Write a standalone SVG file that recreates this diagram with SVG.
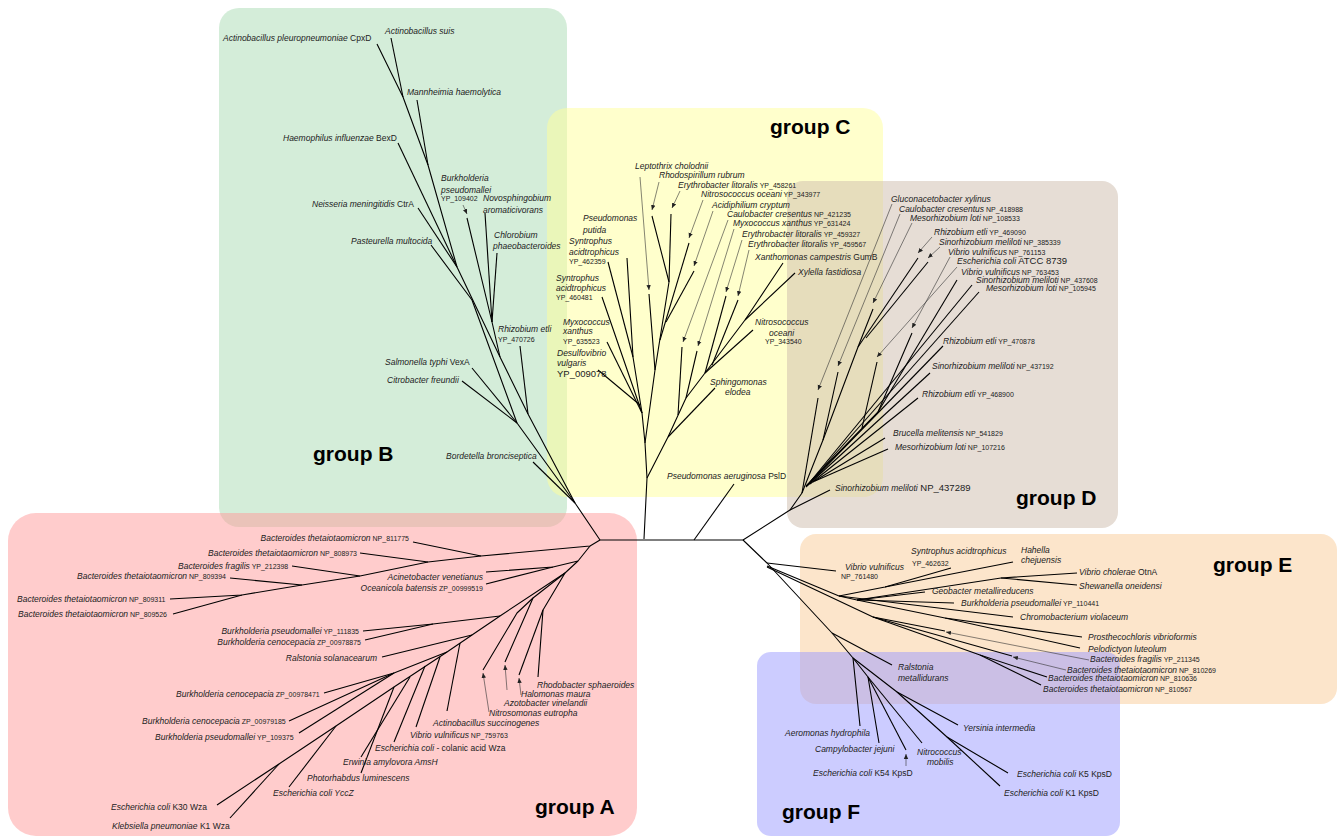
<svg xmlns="http://www.w3.org/2000/svg" width="1339" height="837" viewBox="0 0 1339 837">
<defs>
<marker id="ah" markerWidth="6" markerHeight="6" refX="5" refY="3" orient="auto" markerUnits="userSpaceOnUse"><path d="M0,0.8 L5,3 L0,5.2 z" fill="#222"/></marker>
<style>
.t{font-family:"Liberation Sans",Arial,sans-serif;font-size:8.5px;font-style:italic;fill:#222}
.n{font-style:normal}
.a{font-style:normal;font-size:7px}
.b{font-style:normal;font-size:9.5px}
.g{font-family:"Liberation Sans",Arial,sans-serif;font-size:21px;font-weight:bold;fill:#000}
.br{stroke:#000;stroke-width:1.1;fill:none;stroke-linejoin:round}
.ld{stroke:#333;stroke-width:0.6;fill:none;marker-end:url(#ah)}
</style>
</defs>
<rect width="1339" height="837" fill="#fff"/>
<g id="backgrounds">
<rect id="bgB" x="219" y="8" width="348" height="519" rx="20" fill="#aadbb4" fill-opacity="0.5"/>
<rect id="bgC" x="547" y="108" width="336" height="389" rx="20" fill="#ffff99" fill-opacity="0.5"/>
<rect id="bgD" x="787" y="181" width="331" height="347" rx="16" fill="#cdbcab" fill-opacity="0.5"/>
<rect id="bgA" x="8" y="513" width="629" height="323" rx="28" fill="#ff9999" fill-opacity="0.5"/>
<rect id="bgE" x="800" y="534" width="537" height="170" rx="16" fill="#f9cc97" fill-opacity="0.5"/>
<rect id="bgF" x="757" y="652" width="363" height="184" rx="14" fill="#9999ff" fill-opacity="0.5"/>
</g>
<g id="connectors">
<path class="br" d="M600,540 L743,540"/>
<path class="br" d="M694,540 L734,484"/>
<path class="br" d="M600,540 L575,503 L528,414 L500,357 L457,267 L428,165 L403,97 L377,44"/>
<path class="br" d="M403,97 L391,38"/>
<path class="br" d="M428,165 L417,100"/>
<path class="br" d="M457,267 L398,143"/>
<path class="br" d="M457,267 L418,208"/>
<path class="br" d="M500,357 L492,322 L467,218"/>
<path class="br" d="M492,322 L485,213"/>
<path class="br" d="M492,322 L497,253"/>
<path class="ld" d="M463,205 L467,214"/>
<path class="br" d="M528,414 L520,346"/>
<path class="br" d="M575,503 L517,423 L472,300 L431,245"/>
<path class="br" d="M517,423 L472,368"/>
<path class="br" d="M517,423 L462,381"/>
<path class="br" d="M575,503 L533,462"/>
<path class="br" d="M644,539 L647,478 L645,443 L642,413 L602,297"/>
<path class="br" d="M642,413 L607,342"/>
<path class="br" d="M640,405 L598,370"/>
<path class="br" d="M642,413 L633,357 L627,258"/>
<path class="br" d="M633,357 L608,262"/>
<path class="br" d="M645,443 L655,370 L649,294"/>
<path class="br" d="M655,370 L669,282 L652,216"/>
<path class="br" d="M669,282 L671,214"/>
<path class="br" d="M660,340 L689,243"/>
<path class="br" d="M666,322 L694,271"/>
<path class="ld" d="M640,177 L649,290"/>
<path class="ld" d="M659,182 L652,210"/>
<path class="ld" d="M680,191 L672,208"/>
<path class="ld" d="M703,200 L689,238"/>
<path class="ld" d="M713,211 L694,266"/>
<path class="br" d="M647,478 L668,437 L686,398 L705,373 L745,320 L783,263"/>
<path class="br" d="M745,320 L795,273"/>
<path class="br" d="M668,437 L715,388"/>
<path class="br" d="M705,373 L753,330"/>
<path class="br" d="M705,373 L726,296"/>
<path class="br" d="M712,365 L738,300"/>
<path class="br" d="M686,398 L697,351"/>
<path class="br" d="M678,415 L682,347"/>
<path class="ld" d="M728,220 L683,342"/>
<path class="ld" d="M734,229 L698,346"/>
<path class="ld" d="M742,240 L726,292"/>
<path class="ld" d="M749,250 L738,296"/>
<path class="br" d="M743,540 L790,510 L802,493"/>
<path class="br" d="M790,510 L830,490"/>
<path class="br" d="M802,493 L818,398"/>
<path class="ld" d="M892,204 L818,390"/>
<path class="br" d="M802,493 L823,440 L838,372"/>
<path class="ld" d="M900,214 L838,366"/>
<path class="br" d="M823,440 L858,347 L873,309"/>
<path class="ld" d="M912,223 L873,303"/>
<path class="br" d="M858,347 L918,258"/>
<path class="br" d="M866,338 L928,262"/>
<path class="ld" d="M932,237 L918,253"/>
<path class="ld" d="M940,247 L928,258"/>
<path class="br" d="M806,486 L878,412 L912,333"/>
<path class="ld" d="M950,257 L912,328"/>
<path class="br" d="M862,428 L877,362"/>
<path class="ld" d="M957,267 L877,357"/>
<path class="br" d="M878,412 L957,280"/>
<path class="br" d="M810,482 L972,285"/>
<path class="br" d="M812,480 L979,292"/>
<path class="br" d="M806,487 L943,346"/>
<path class="br" d="M808,485 L930,373"/>
<path class="br" d="M810,484 L918,398"/>
<path class="br" d="M813,482 L885,438"/>
<path class="br" d="M815,481 L888,449"/>
<path class="br" d="M743,540 L767,563 L832,633"/>
<path class="br" d="M767,563 L836,571"/>
<path class="br" d="M767,566 L839,596 L885,587 L951,568"/>
<path class="br" d="M885,587 L1013,562"/>
<path class="br" d="M839,596 L857,600 L925,592"/>
<path class="br" d="M857,600 L954,603"/>
<path class="br" d="M857,600 L1001,578 L1077,573"/>
<path class="br" d="M1001,578 L1077,585"/>
<path class="br" d="M839,596 L1013,617"/>
<path class="br" d="M857,600 L945,618 L1082,637"/>
<path class="br" d="M945,618 L1080,648"/>
<path class="br" d="M767,567 L873,617 L945,631"/>
<path class="br" d="M873,617 L1012,656"/>
<path class="br" d="M873,617 L980,655 L1047,677"/>
<path class="br" d="M980,655 L1041,685"/>
<path class="ld" d="M1089,660 L946,632"/>
<path class="ld" d="M1066,670 L1013,657"/>
<path class="br" d="M832,633 L892,665"/>
<path class="br" d="M832,633 L853,658 L860,726"/>
<path class="br" d="M853,658 L868,677 L879,743"/>
<path class="br" d="M868,677 L906,750"/>
<path class="br" d="M868,677 L922,743"/>
<path class="br" d="M853,658 L897,692 L958,725"/>
<path class="br" d="M897,692 L947,737 L1008,773"/>
<path class="br" d="M947,737 L1000,786"/>
<path class="ld" d="M906,766 L906,754"/>
<path class="br" d="M600,540 L590,546 L481,556 L428,562 L360,576 L302,585 L242,595 L170,599"/>
<path class="br" d="M242,595 L173,614"/>
<path class="br" d="M302,585 L230,578"/>
<path class="br" d="M360,576 L292,566"/>
<path class="br" d="M428,562 L360,553"/>
<path class="br" d="M481,556 L413,542"/>
<path class="br" d="M590,546 L578,561 L553,567 L486,572"/>
<path class="br" d="M553,567 L486,584"/>
<path class="br" d="M578,561 L565,573 L543,610 L538,677"/>
<path class="br" d="M543,610 L519,675"/>
<path class="br" d="M565,573 L533,598 L505,662"/>
<path class="br" d="M533,598 L517,613 L483,670"/>
<path class="br" d="M565,573 L500,616 L472,635 L447,652 L394,687 L336,726 L279,764 L217,805"/>
<path class="br" d="M279,764 L230,818"/>
<path class="br" d="M336,726 L289,787"/>
<path class="br" d="M500,616 L433,624 L363,631"/>
<path class="br" d="M433,624 L365,640"/>
<path class="br" d="M472,635 L382,657"/>
<path class="br" d="M447,652 L394,673 L324,693"/>
<path class="br" d="M394,673 L289,721"/>
<path class="br" d="M394,673 L299,733"/>
<path class="br" d="M394,687 L361,773"/>
<path class="br" d="M410,677 L361,757"/>
<path class="br" d="M425,666 L394,742"/>
<path class="br" d="M440,657 L416,727"/>
<path class="br" d="M460,643 L447,711"/>
<path class="ld" d="M489,712 L483,673"/>
<path class="ld" d="M507,690 L505,665"/>
<path class="ld" d="M521,695 L519,678"/>
</g>
<g id="groupB">
<text class="t" x="223" y="41">Actinobacillus pleuropneumoniae<tspan class="n"> CpxD</tspan></text>
<text class="t" x="385" y="34">Actinobacillus suis</text>
<text class="t" x="407" y="95">Mannheimia haemolytica</text>
<text class="t" x="283" y="141">Haemophilus influenzae<tspan class="n"> BexD</tspan></text>
<text class="t" x="441" y="181">Burkholderia</text>
<text class="t" x="441" y="193">pseudomallei</text>
<text class="t a" x="441" y="201">YP_109402</text>
<text class="t" x="483" y="201">Novosphingobium</text>
<text class="t" x="483" y="213">aromaticivorans</text>
<text class="t" x="312" y="207">Neisseria meningitidis<tspan class="n"> CtrA</tspan></text>
<text class="t" x="494" y="238">Chlorobium</text>
<text class="t" x="493" y="249">phaeobacteroides</text>
<text class="t" x="351" y="244">Pasteurella multocida</text>
<text class="t" x="498" y="332">Rhizobium etli</text>
<text class="t a" x="498" y="342">YP_470726</text>
<text class="t" x="385" y="365">Salmonella typhi<tspan class="n"> VexA</tspan></text>
<text class="t" x="387" y="383">Citrobacter freundii</text>
<text class="t" x="446" y="459">Bordetella bronciseptica</text>
<text class="g" x="313" y="461">group B</text>
</g>
<g id="groupC">
<text class="t" x="635" y="169">Leptothrix cholodnii</text>
<text class="t" x="659" y="178">Rhodospirillum rubrum</text>
<text class="t" x="678" y="188">Erythrobacter litoralis<tspan class="a"> YP_458261</tspan></text>
<text class="t" x="701" y="197">Nitrosococcus oceani<tspan class="a"> YP_343977</tspan></text>
<text class="t" x="712" y="208">Acidiphilium cryptum</text>
<text class="t" x="727" y="217">Caulobacter cresentus<tspan class="a"> NP_421235</tspan></text>
<text class="t" x="733" y="226">Myxococcus xanthus<tspan class="a"> YP_631424</tspan></text>
<text class="t" x="742" y="237">Erythrobacter litoralis<tspan class="a"> YP_459327</tspan></text>
<text class="t" x="748" y="247">Erythrobacter litoralis<tspan class="a"> YP_459567</tspan></text>
<text class="t" x="755" y="260">Xanthomonas campestris<tspan class="n"> GumB</tspan></text>
<text class="t" x="798" y="275">Xylella fastidiosa</text>
<text class="t" x="583" y="221">Pseudomonas</text>
<text class="t" x="583" y="233">putida</text>
<text class="t" x="569" y="244">Syntrophus</text>
<text class="t" x="569" y="255">acidtrophicus</text>
<text class="t a" x="569" y="264">YP_462359</text>
<text class="t" x="556" y="281">Syntrophus</text>
<text class="t" x="556" y="291">acidtrophicus</text>
<text class="t a" x="556" y="300">YP_460481</text>
<text class="t" x="563" y="325">Myxococcus</text>
<text class="t" x="563" y="334">xanthus</text>
<text class="t a" x="563" y="344">YP_635523</text>
<text class="t" x="557" y="356">Desulfovibrio</text>
<text class="t" x="557" y="366">vulgaris</text>
<text class="t b" x="557" y="377">YP_009078</text>
<text class="t" x="755" y="325">Nitrosococcus</text>
<text class="t" x="769" y="336">oceani</text>
<text class="t a" x="765" y="344">YP_343540</text>
<text class="t" x="710" y="385">Sphingomonas</text>
<text class="t" x="725" y="395">elodea</text>
<text class="t" x="667" y="479">Pseudomonas aeruginosa<tspan class="n"> PslD</tspan></text>
<text class="g" x="770" y="134">group C</text>
</g>
<g id="groupD">
<text class="t" x="891" y="202">Gluconacetobacter xylinus</text>
<text class="t" x="899" y="212">Caulobacter cresentus<tspan class="a"> NP_418988</tspan></text>
<text class="t" x="910" y="221">Mesorhizobium loti<tspan class="a"> NP_108533</tspan></text>
<text class="t" x="934" y="235">Rhizobium etli<tspan class="a"> YP_469090</tspan></text>
<text class="t" x="939" y="245">Sinorhizobium meliloti<tspan class="a"> NP_385339</tspan></text>
<text class="t" x="948" y="255">Vibrio vulnificus<tspan class="a"> NP_761153</tspan></text>
<text class="t" x="957" y="264">Escherichia coli<tspan class="b"> ATCC 8739</tspan></text>
<text class="t" x="961" y="275">Vibrio vulnificus<tspan class="a"> NP_763453</tspan></text>
<text class="t" x="976" y="283">Sinorhizobium meliloti<tspan class="a"> NP_437608</tspan></text>
<text class="t" x="986" y="291">Mesorhizobium loti<tspan class="a"> NP_105945</tspan></text>
<text class="t" x="943" y="344">Rhizobium etli<tspan class="a"> YP_470878</tspan></text>
<text class="t" x="932" y="369">Sinorhizobium meliloti<tspan class="a"> NP_437192</tspan></text>
<text class="t" x="922" y="397">Rhizobium etli<tspan class="a"> YP_468900</tspan></text>
<text class="t" x="893" y="436">Brucella melitensis<tspan class="a"> NP_541829</tspan></text>
<text class="t" x="895" y="450">Mesorhizobium loti<tspan class="a"> NP_107216</tspan></text>
<text class="t" x="835" y="491">Sinorhizobium meliloti<tspan class="b"> NP_437289</tspan></text>
<text class="g" x="1016" y="505">group D</text>
</g>
<g id="groupE">
<text class="t" x="845" y="570">Vibrio vulnificus</text>
<text class="t a" x="841" y="579">NP_761480</text>
<text class="t" x="911" y="554">Syntrophus acidtrophicus</text>
<text class="t a" x="912" y="566">YP_462632</text>
<text class="t" x="1021" y="553">Hahella</text>
<text class="t" x="1021" y="563">chejuensis</text>
<text class="t" x="1079" y="575">Vibrio cholerae<tspan class="n"> OtnA</tspan></text>
<text class="t" x="1079" y="589">Shewanella oneidensi</text>
<text class="t" x="932" y="594">Geobacter metallireducens</text>
<text class="t" x="961" y="606">Burkholderia pseudomallei<tspan class="a"> YP_110441</tspan></text>
<text class="t" x="1020" y="620">Chromobacterium violaceum</text>
<text class="t" x="1088" y="640">Prosthecochloris vibrioformis</text>
<text class="t" x="1088" y="652">Pelodictyon luteolum</text>
<text class="t" x="1090" y="662">Bacteroides fragilis<tspan class="a"> YP_211345</tspan></text>
<text class="t" x="1067" y="673">Bacteroides thetaiotaomicron<tspan class="a"> NP_810269</tspan></text>
<text class="t" x="1048" y="681">Bacteroides thetaiotaomicron<tspan class="a"> NP_810636</tspan></text>
<text class="t" x="1043" y="692">Bacteroides thetaiotaomicron<tspan class="a"> NP_810567</tspan></text>
<text class="g" x="1213" y="572">group E</text>
</g>
<g id="groupF">
<text class="t" x="898" y="670">Ralstonia</text>
<text class="t" x="898" y="681">metallidurans</text>
<text class="t" x="785" y="736">Aeromonas hydrophila</text>
<text class="t" x="815" y="752">Campylobacter jejuni</text>
<text class="t" x="813" y="776">Escherichia coli<tspan class="n"> K54 KpsD</tspan></text>
<text class="t" x="917" y="755">Nitrococcus</text>
<text class="t" x="927" y="765">mobilis</text>
<text class="t" x="963" y="731">Yersinia intermedia</text>
<text class="t" x="1017" y="777">Escherichia coli<tspan class="n"> K5 KpsD</tspan></text>
<text class="t" x="1004" y="796">Escherichia coli<tspan class="n"> K1 KpsD</tspan></text>
<text class="g" x="782" y="819">group F</text>
</g>
<g id="groupA">
<text class="t" x="409" y="541" text-anchor="end">Bacteroides thetaiotaomicron<tspan class="a"> NP_811775</tspan></text>
<text class="t" x="357" y="556" text-anchor="end">Bacteroides thetaiotaomicron<tspan class="a"> NP_808973</tspan></text>
<text class="t" x="178" y="569">Bacteroides fragilis<tspan class="a"> YP_212398</tspan></text>
<text class="t" x="77" y="579">Bacteroides thetaiotaomicron<tspan class="a"> NP_809394</tspan></text>
<text class="t" x="17" y="602">Bacteroides thetaiotaomicron<tspan class="a"> NP_809311</tspan></text>
<text class="t" x="18" y="617">Bacteroides thetaiotaomicron<tspan class="a"> NP_809526</tspan></text>
<text class="t" x="483" y="580" text-anchor="end">Acinetobacter venetianus</text>
<text class="t" x="483" y="591" text-anchor="end">Oceanicola batensis<tspan class="a"> ZP_00999519</tspan></text>
<text class="t" x="359" y="634" text-anchor="end">Burkholderia pseudomallei<tspan class="a"> YP_111835</tspan></text>
<text class="t" x="361" y="645" text-anchor="end">Burkholderia cenocepacia<tspan class="a"> ZP_00978875</tspan></text>
<text class="t" x="377" y="661" text-anchor="end">Ralstonia solanacearum</text>
<text class="t" x="537" y="688">Rhodobacter sphaeroides</text>
<text class="t" x="521" y="697">Halomonas maura</text>
<text class="t" x="504" y="706">Azotobacter vinelandii</text>
<text class="t" x="489" y="716">Nitrosomonas eutropha</text>
<text class="t" x="433" y="726">Actinobacillus succinogenes</text>
<text class="t" x="410" y="738">Vibrio vulnificus<tspan class="a"> NP_759763</tspan></text>
<text class="t" x="375" y="751">Escherichia coli<tspan class="n"> - colanic acid Wza</tspan></text>
<text class="t" x="343" y="765">Erwinia amylovora AmsH</text>
<text class="t" x="307" y="781">Photorhabdus luminescens</text>
<text class="t" x="273" y="796">Escherichia coli YccZ</text>
<text class="t" x="111" y="810">Escherichia coli<tspan class="n"> K30 Wza</tspan></text>
<text class="t" x="112" y="829">Klebsiella pneumoniae<tspan class="n"> K1 Wza</tspan></text>
<text class="t" x="176" y="697">Burkholderia cenocepacia<tspan class="a"> ZP_00978471</tspan></text>
<text class="t" x="142" y="724">Burkholderia cenocepacia<tspan class="a"> ZP_00979185</tspan></text>
<text class="t" x="155" y="740">Burkholderia pseudomallei<tspan class="a"> YP_109375</tspan></text>
<text class="g" x="535" y="814">group A</text>
</g>
</svg>
